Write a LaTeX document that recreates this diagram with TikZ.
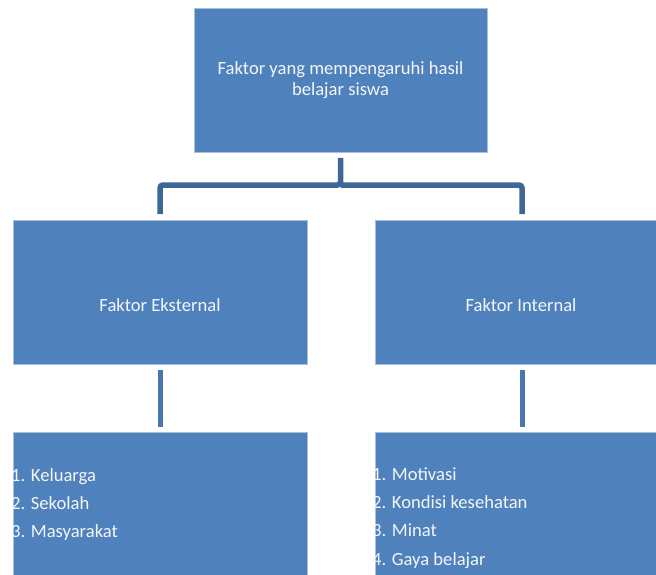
\documentclass[tikz,border=0pt]{standalone}
\usepackage{fontspec}
\setmainfont{Carlito}
\definecolor{boxblue}{HTML}{4F81BD}
\definecolor{boxedge}{HTML}{A9C0DD}
\definecolor{topline}{HTML}{3E6696}
\definecolor{lowline}{HTML}{4A76B0}
\definecolor{txt}{HTML}{F4F6FA}
\begin{document}
\begin{tikzpicture}[x=1pt,y=-1pt,
  boxnode/.style={draw=boxedge,line width=0.8pt,fill=boxblue,inner sep=0pt,outer sep=0pt},
  label/.style={text=txt,font=\fontsize{18.6}{20.5}\selectfont,inner sep=0pt},
  topconn/.style={draw=topline,line width=5.5pt,rounded corners=3pt},
  lowconn/.style={draw=lowline,line width=5pt}]
\useasboundingbox (0,0) rectangle (656,575);
\node[boxnode,minimum width=293pt,minimum height=144pt] (top) at (340.5,80) {};
\node[boxnode,minimum width=294pt,minimum height=144pt] (ext) at (160,292) {};
\node[boxnode,minimum width=294pt,minimum height=144pt] (int) at (522,292) {};
\node[boxnode,minimum width=294pt,minimum height=170pt] (extb) at (160,517) {};
\node[boxnode,minimum width=294pt,minimum height=170pt] (intb) at (522,517) {};
\coordinate (bar) at (340.5,185);
\draw[topconn] ([yshift=-6pt]top.south) -- (bar) -| ([yshift=6pt]ext.north);
\draw[topconn] (bar) -| ([yshift=6pt]int.north);
\draw[lowconn] ([yshift=-6pt]ext.south) -- ([yshift=5pt]extb.north);
\draw[lowconn] ([yshift=-6pt]int.south) -- ([yshift=5pt]intb.north);
\node[label,align=center] (ttext) at (340.5,80) {Faktor yang mempengaruhi hasil\\belajar siswa};
\node[label] (etext) at (160,305) {Faktor Eksternal};
\node[label] (itext) at (521,305) {Faktor Internal};
\node[label,anchor=base west] (e1) at (11,481) {1. Keluarga};
\node[label,anchor=base west] (e2) at (11,509) {2. Sekolah};
\node[label,anchor=base west] (e3) at (11,537) {3. Masyarakat};
\node[label,anchor=base west] (i1) at (372,480) {1. Motivasi};
\node[label,anchor=base west] (i2) at (372,508) {2. Kondisi kesehatan};
\node[label,anchor=base west] (i3) at (372,536) {3. Minat};
\node[label,anchor=base west] (i4) at (372,565) {4. Gaya belajar};
\end{tikzpicture}
\end{document}
